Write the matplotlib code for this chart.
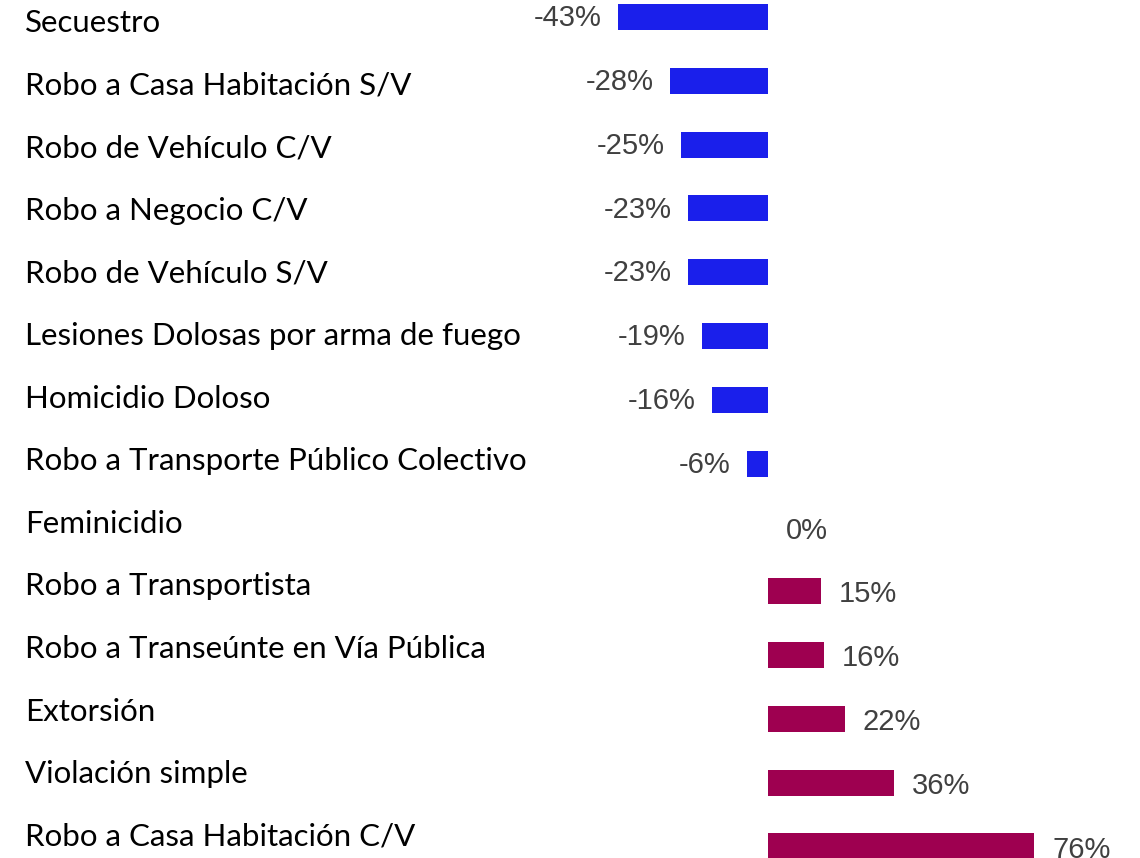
import matplotlib
matplotlib.use('Agg')
import matplotlib.pyplot as plt

# datos: variación porcentual por delito
delitos = [
    "Secuestro",
    "Robo a Casa Habitación S/V",
    "Robo de Vehículo C/V",
    "Robo a Negocio C/V",
    "Robo de Vehículo S/V",
    "Lesiones Dolosas por arma de fuego",
    "Homicidio Doloso",
    "Robo a Transporte Público Colectivo",
    "Feminicidio",
    "Robo a Transportista",
    "Robo a Transeúnte en Vía Pública",
    "Extorsión",
    "Violación simple",
    "Robo a Casa Habitación C/V",
]
variacion = [-43, -28, -25, -23, -23, -19, -16, -6, 0, 15, 16, 22, 36, 76]

W, H = 1140, 858
c_neg = '#1A1FEB'
c_pos = '#9E0050'

fig = plt.figure(figsize=(W / 100, H / 100), dpi=100)
# eje x: cero en x=768 px, ~3.5 px por punto porcentual
px_per = 3.5
x0 = 768
xmin, xmax = -55, 100
left = (x0 + xmin * px_per) / W
width = (xmax - xmin) * px_per / W
ax = fig.add_axes([left, 0, width, 1])

row = 63.8
first = 17
ax.set_xlim(xmin, xmax)
ax.set_ylim((H - first) / row, -first / row)

ys = list(range(len(delitos)))
colors = [c_neg if v < 0 else c_pos for v in variacion]
ax.barh(ys, variacion, height=26 / row, color=colors)

# etiquetas de valor
pad_neg = 16 / px_per
pad_pos = 18 / px_per
for y, v in zip(ys, variacion):
    if v < 0:
        ax.text(v - pad_neg, y + 0.02, f"{v}%", ha='right', va='center', fontsize=21,
                family='Liberation Sans', color='#404040')
    else:
        ax.text(v + pad_pos, y + 0.05, f"{v}%", ha='left', va='center',
                fontsize=21, family='Liberation Sans', color='#404040')

# nombres de los delitos (columna izquierda)
for i, name in enumerate(delitos):
    ypx = 23 + 62.6 * i
    fig.text(25 / W, 1 - ypx / H, name, ha='left', va='center', fontsize=22.5,
             family='Lato', color='black')

ax.axis('off')
fig.savefig('out.png', dpi=100)
